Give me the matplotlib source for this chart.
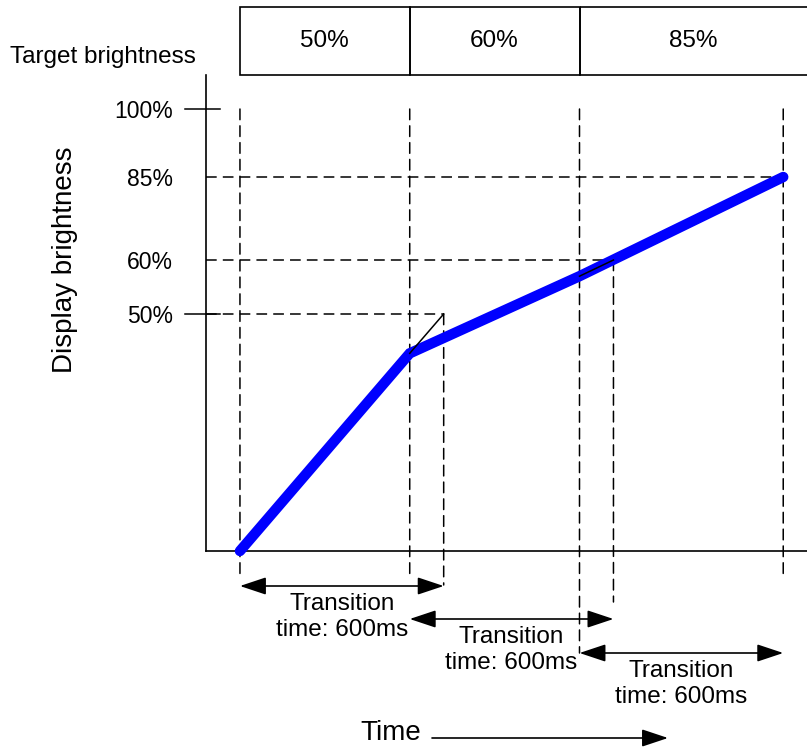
import numpy as np
import matplotlib
matplotlib.use('Agg')
import matplotlib.pyplot as plt
import matplotlib.transforms as mtransforms
from matplotlib.patches import Rectangle

plt.rcParams['font.family'] = ['Liberation Sans', 'DejaVu Sans']

# data (times in ms, brightness in %)
target_times = [0, 500, 1000]
target_levels = [50, 60, 85]
target_labels = ['50%', '60%', '85%']
transition_ms = 600
display_times = [0, 500, 1000, 1600]
display_levels = [0, 41.7, 57.0, 85]
ytick_vals = [50, 60, 85, 100]
ytick_labels = ['50%', '60%', '85%', '100%']

# schematic (non linear) brightness axis: % -> height above the time axis
scale_pct = np.array([0, 50, 60, 85, 100])
scale_pos = np.array([0, 237, 291, 374, 442])


def _pw(v, xs, ys):
    v = np.asarray(v, dtype=float)
    out = np.interp(v, xs, ys)
    lo_slope = (ys[1] - ys[0]) / (xs[1] - xs[0])
    hi_slope = (ys[-1] - ys[-2]) / (xs[-1] - xs[-2])
    out = np.where(v < xs[0], ys[0] + (v - xs[0]) * lo_slope, out)
    out = np.where(v > xs[-1], ys[-1] + (v - xs[-1]) * hi_slope, out)
    return out


def fwd(v):
    return _pw(v, scale_pct, scale_pos)


def inv(p):
    return _pw(p, scale_pos, scale_pct)


W, H = 807, 749
fig = plt.figure(figsize=(W / 100, H / 100), dpi=100)
ax = fig.add_axes([206 / W, (H - 551) / H, (W - 206) / W, (551 - 75) / H])
ax.set_yscale('function', functions=(fwd, inv))

# image pixel coords (top-down) -> display
px_top = mtransforms.Affine2D().scale(1, -1).translate(0, H)
below = mtransforms.blended_transform_factory(ax.transData, px_top)
left_px = mtransforms.blended_transform_factory(px_top, ax.transData)

x0, x1 = -100, 1670
dash = (0, (7, 4))
fs = 17.5

# horizontal guides from the axis to where each target is reached
for lvl, t in zip(target_levels, target_times):
    ax.plot([x0, t + transition_ms], [lvl, lvl], color='k', lw=1.1, ls=dash,
            zorder=1)

# vertical guides
guide_starts = target_times + [target_times[-1] + transition_ms]
guide_bottoms = [577, 577, 653, 577]
for t, yb in zip(guide_starts, guide_bottoms):
    ax.annotate('', xy=(t, yb), xycoords=below, xytext=(t, 100), textcoords='data',
                arrowprops=dict(arrowstyle='-', color='k', lw=1.1, linestyle=dash,
                                shrinkA=0, shrinkB=0), annotation_clip=False)
end_bottoms = [585, 602]
for i, yb in enumerate(end_bottoms):
    t = target_times[i] + transition_ms
    ax.annotate('', xy=(t, yb), xycoords=below, xytext=(t, target_levels[i]),
                textcoords='data',
                arrowprops=dict(arrowstyle='-', color='k', lw=1.1, linestyle=dash,
                                shrinkA=0, shrinkB=0), annotation_clip=False)

# display brightness curve
ax.plot(display_times, display_levels, color='#0000ff', lw=7.5,
        solid_capstyle='round', solid_joinstyle='miter', zorder=3, clip_on=False)

# where each transition would have ended
for i in range(1, len(target_times)):
    ax.plot([target_times[i], target_times[i - 1] + transition_ms],
            [display_levels[i], target_levels[i - 1]], color='k', lw=1.1, zorder=4)

# solid ticks at 50% and 100%
for lvl in [50, 100]:
    ax.plot([185, 220], [lvl, lvl], color='k', lw=1.1, transform=left_px,
            clip_on=False)

ax.set_xticks([])
ax.set_yticks(ytick_vals, labels=ytick_labels)
ax.tick_params(axis='y', length=0, pad=24, labelsize=16.5)
ax.yaxis.set_minor_locator(matplotlib.ticker.NullLocator())
for s in ['top', 'right']:
    ax.spines[s].set_visible(False)
for s in ['left', 'bottom']:
    ax.spines[s].set_linewidth(1.2)

# target brightness boxes
edges = target_times + [x1 + 50]
for i, lab in enumerate(target_labels):
    ax.add_patch(Rectangle((edges[i], 7), edges[i + 1] - edges[i], 68,
                           transform=below, fill=False, lw=1.2, ec='k',
                           clip_on=False))
    cx = (edges[i] + min(edges[i + 1], x1)) / 2
    ax.text(cx, 41, lab, transform=below, ha='center', va='center', fontsize=fs)

fig.text(10, 57, 'Target brightness', transform=px_top, ha='left', va='center',
         fontsize=fs)
fig.text(65, 260, 'Display brightness', transform=px_top, ha='center',
         va='center', rotation=90, fontsize=20)

# transition time arrows
arrow_rows = [586, 619, 653]
for t, y in zip(target_times, arrow_rows):
    ax.annotate('', xy=(t + transition_ms, y), xycoords=below,
                xytext=(t, y), textcoords=below,
                arrowprops=dict(arrowstyle='<|-|>,head_length=0.9,head_width=0.3',
                                mutation_scale=18, color='k', lw=1.2,
                                shrinkA=0, shrinkB=0), annotation_clip=False)
    ax.text(t + transition_ms / 2, y + 31, 'Transition\ntime: %dms' % transition_ms,
            transform=below, ha='center', va='center', fontsize=fs,
            multialignment='center')

# time axis label
fig.text(391, 733, 'Time', transform=px_top, ha='center', va='center', fontsize=20)
ax.annotate('', xy=(668, 738), xycoords=px_top, xytext=(432, 738),
            textcoords=px_top,
            arrowprops=dict(arrowstyle='-|>,head_length=0.9,head_width=0.3',
                            mutation_scale=18, color='k', lw=1.2,
                            shrinkA=0, shrinkB=0), annotation_clip=False)

ax.set_xlim(x0, x1)
ax.set_ylim(0, inv(551 - 75))

fig.savefig('out.png', dpi=100)
